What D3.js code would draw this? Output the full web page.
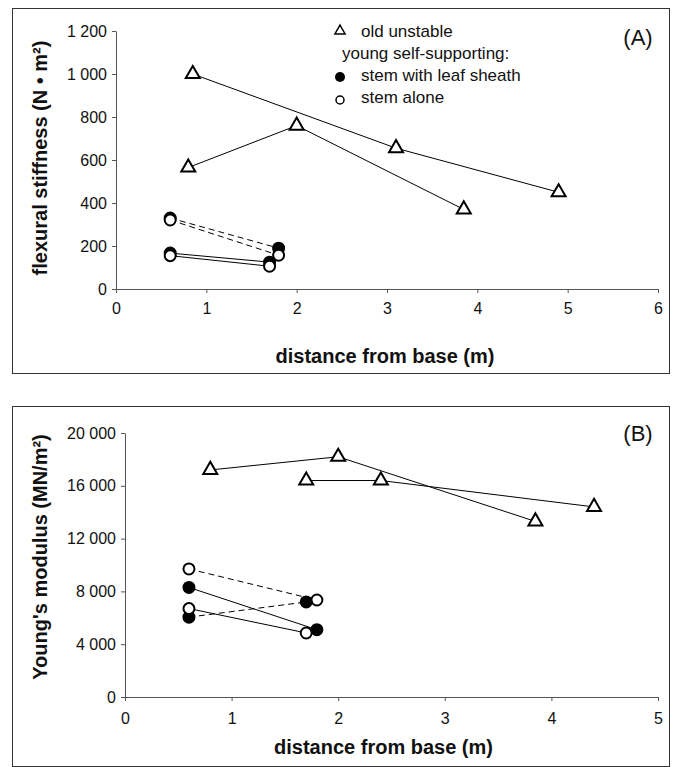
<!DOCTYPE html>
<meta charset="utf-8">
<style>
body { margin: 0; background: #fff; }
text { font-family: "Liberation Sans", Arial, sans-serif; fill: #111; }
</style>
<script src="https://d3js.org/d3.v7.min.js"></script>
<body>
<script>

// ---- data ----
var xTicksA = [0, 1, 2, 3, 4, 5, 6];
var yTicksA = [0, 200, 400, 600, 800, 1000, 1200];
var xTicksB = [0, 1, 2, 3, 4, 5];
var yTicksB = [0, 4000, 8000, 12000, 16000, 20000];

// (A) flexural stiffness (N m2) vs distance from base (m)
var stiffOld1X = [0.85, 3.1, 4.9],   stiffOld1Y = [1000, 655, 450];
var stiffOld2X = [0.8, 2.0, 3.85],   stiffOld2Y = [565, 760, 370];
var stiffSheath1X = [0.6, 1.8],      stiffSheath1Y = [330, 190];
var stiffAlone1X = [0.6, 1.8],       stiffAlone1Y = [321, 157];
var stiffSheath2X = [0.6, 1.7],      stiffSheath2Y = [167, 125];
var stiffAlone2X = [0.6, 1.7],       stiffAlone2Y = [155, 106];

// (B) Young's modulus (MN/m2) vs distance from base (m)
var modOld1X = [0.8, 2.0, 3.85],     modOld1Y = [17200, 18200, 13300];
var modOld2X = [1.7, 2.4, 4.4],      modOld2Y = [16400, 16400, 14400];
var modSheath1X = [0.6, 1.7],        modSheath1Y = [6050, 7200];
var modAlone1X = [0.6, 1.8],         modAlone1Y = [9700, 7350];
var modSheath2X = [0.6, 1.8],        modSheath2Y = [8300, 5100];
var modAlone2X = [0.6, 1.7],         modAlone2Y = [6700, 4850];

var legendLabels = ["old unstable", "young self-supporting:", "stem with leaf sheath", "stem alone"];

function zip(xs, ys) { return xs.map(function(x, i) { return [x, ys[i]]; }); }

// group -> marker, specimen 1 dashed, specimen 2 solid
var seriesA = [
  {group: "old", dashed: false, pts: zip(stiffOld1X, stiffOld1Y)},
  {group: "old", dashed: false, pts: zip(stiffOld2X, stiffOld2Y)},
  {group: "sheath", dashed: true, pts: zip(stiffSheath1X, stiffSheath1Y)},
  {group: "alone", dashed: true, pts: zip(stiffAlone1X, stiffAlone1Y)},
  {group: "sheath", dashed: false, pts: zip(stiffSheath2X, stiffSheath2Y)},
  {group: "alone", dashed: false, pts: zip(stiffAlone2X, stiffAlone2Y)}
];
var seriesB = [
  {group: "old", dashed: false, pts: zip(modOld1X, modOld1Y)},
  {group: "old", dashed: false, pts: zip(modOld2X, modOld2Y)},
  {group: "alone", dashed: true, pts: zip(modAlone1X, modAlone1Y)},
  {group: "sheath", dashed: true, pts: zip(modSheath1X, modSheath1Y)},
  {group: "alone", dashed: false, pts: zip(modAlone2X, modAlone2Y)},
  {group: "sheath", dashed: false, pts: zip(modSheath2X, modSheath2Y)}
];

var width = 676, height = 767;
var fmt = function(v) { return d3.format(",")(v).replace(/,/g, " "); };

var svg = d3.select("body").append("svg")
    .attr("width", width)
    .attr("height", height);

function drawPanel(p) {
  var g = svg.append("g");
  g.append("rect")
      .attr("x", p.box[0] + 0.5).attr("y", p.box[1] + 0.5)
      .attr("width", p.box[2]).attr("height", p.box[3])
      .attr("fill", "none").attr("stroke", "#333").attr("stroke-width", 1);

  var x = d3.scaleLinear().domain(p.xDomain).range([p.left, p.right]);
  var y = d3.scaleLinear().domain(p.yDomain).range([p.bottom, p.top]);

  var ya = g.append("g")
      .attr("transform", "translate(" + p.left + ",0)")
      .call(d3.axisLeft(y).tickValues(p.yTicks).tickFormat(fmt).tickSize(4).tickSizeOuter(0).tickPadding(5));
  var xa = g.append("g")
      .attr("transform", "translate(0," + p.bottom + ")")
      .call(d3.axisBottom(x).tickValues(p.xTicks).tickFormat(d3.format("d"))
        .tickSize(4).tickSizeOuter(0).tickPadding(p.xPad));
  [ya, xa].forEach(function(a) {
    a.select(".domain").attr("stroke", "#555");
    a.selectAll(".tick line").attr("stroke", "#555");
    a.selectAll(".tick text").attr("fill", "#111")
        .style("font-family", '"Liberation Sans", Arial, sans-serif')
        .style("font-size", "16px");
  });

  g.append("text")
      .attr("x", (p.left + p.right) / 2 + p.xTitleDx).attr("y", p.xTitleY)
      .attr("text-anchor", "middle")
      .style("font-size", "20px").style("font-weight", "bold")
      .text("distance from base (m)");
  g.append("text")
      .attr("transform", "translate(" + p.yTitleX + "," + p.yTitleY + ") rotate(-90)")
      .attr("text-anchor", "middle")
      .style("font-size", "20px").style("font-weight", "bold")
      .text(p.yTitle);
  g.append("text")
      .attr("x", p.tag[0]).attr("y", p.tag[1])
      .attr("text-anchor", "middle")
      .style("font-size", "22px")
      .text(p.tagText);

  var line = d3.line().x(function(d) { return x(d[0]); }).y(function(d) { return y(d[1]); });

  g.selectAll(".series")
      .data(p.series)
    .enter().append("path")
      .attr("class", "series")
      .attr("d", function(d) { return line(d.pts); })
      .attr("fill", "none")
      .attr("stroke", "#000")
      .attr("stroke-width", 1)
      .attr("stroke-dasharray", function(d) { return d.dashed ? "6,4" : null; });

  var tri = d3.symbol().type(d3.symbolTriangle).size(85);
  p.series.forEach(function(s) {
    var pts = g.append("g").selectAll("g")
        .data(s.pts)
      .enter().append("g")
        .attr("transform", function(d) { return "translate(" + x(d[0]) + "," + y(d[1]) + ")"; });
    if (s.group === "old") {
      pts.append("path").attr("d", tri)
          .attr("fill", "#fff").attr("stroke", "#000").attr("stroke-width", 2);
    } else {
      pts.append("circle").attr("r", 5.5)
          .attr("fill", s.group === "sheath" ? "#000" : "#fff")
          .attr("stroke", "#000").attr("stroke-width", 2);
    }
  });
  return g;
}

var gA = drawPanel({
  box: [12, 8, 657, 365],
  left: 116, right: 658, top: 31, bottom: 289,
  xDomain: [0, 6], yDomain: [0, 1200],
  xTicks: xTicksA, yTicks: yTicksA, xPad: 10,
  xTitleY: 363, xTitleDx: -2,
  yTitle: "flexural stiffness (N \u2022 m\u00b2)", yTitleX: 47, yTitleY: 158,
  tag: [638, 45], tagText: "(A)",
  series: seriesA
});

drawPanel({
  box: [12, 406, 657, 360],
  left: 125, right: 658, top: 433, bottom: 697,
  xDomain: [0, 5], yDomain: [0, 20000],
  xTicks: xTicksB, yTicks: yTicksB, xPad: 12,
  xTitleY: 754, xTitleDx: -8,
  yTitle: "Young's modulus (MN/m\u00b2)", yTitleX: 47, yTitleY: 557,
  tag: [638, 441], tagText: "(B)",
  series: seriesB
});

// legend in panel A
var leg = gA.append("g").attr("transform", "translate(340,0)");
leg.append("path")
    .attr("d", d3.symbol().type(d3.symbolTriangle).size(45))
    .attr("transform", "translate(0,31)")
    .attr("fill", "#fff").attr("stroke", "#000").attr("stroke-width", 1.5);
leg.append("circle").attr("cx", 0).attr("cy", 77).attr("r", 5).attr("fill", "#000");
leg.append("circle").attr("cx", 0).attr("cy", 100).attr("r", 4)
    .attr("fill", "#fff").attr("stroke", "#000").attr("stroke-width", 1.5);
leg.selectAll("text.leg")
    .data(legendLabels)
  .enter().append("text")
    .attr("class", "leg")
    .attr("x", function(d, i) { return i === 1 ? 2 : 21; })
    .attr("y", function(d, i) { return [37, 59, 81, 103][i]; })
    .style("font-size", "17px")
    .text(function(d) { return d; });

</script>
</body>
